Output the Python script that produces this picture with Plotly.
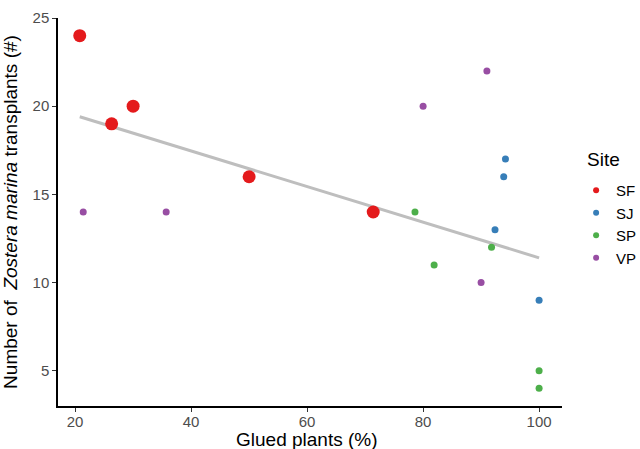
import plotly.graph_objects as go

sites = ["SF", "SJ", "SP", "VP"]
colors = {"SF": "#E41A1C", "SJ": "#377EB8", "SP": "#4DAF4A", "VP": "#984EA3"}

sf_x = [20.8, 26.3, 30.0, 50.0, 71.4]
sf_y = [24, 19, 20, 16, 14]
sj_x = [94.2, 93.9, 92.4, 100.0]
sj_y = [17, 16, 13, 9]
sp_x = [78.6, 91.8, 81.9, 100.0, 100.0]
sp_y = [14, 12, 11, 5, 4]
vp_x = [21.4, 35.7, 80.0, 91.0, 90.0]
vp_y = [14, 14, 20, 22, 10]

trend_x = [20.8, 100.0]
trend_y = [19.4, 11.4]

data = {"SF": (sf_x, sf_y), "SJ": (sj_x, sj_y), "SP": (sp_x, sp_y), "VP": (vp_x, vp_y)}
sizes = {"SF": 13, "SJ": 7, "SP": 7, "VP": 7}

fig = go.Figure()
fig.add_trace(go.Scatter(x=trend_x, y=trend_y, mode="lines",
                         line=dict(color="#BEBEBE", width=3), showlegend=False, hoverinfo="skip"))
for s in sites:
    xs, ys = data[s]
    fig.add_trace(go.Scatter(x=xs, y=ys, mode="markers", name=s, legendgroup=s,
                             showlegend=False,
                             marker=dict(color=colors[s], size=sizes[s], line=dict(width=0))))
# legend keys (small, uniform size as in the reference legend)
for s in sites:
    fig.add_trace(go.Scatter(x=[None], y=[None], mode="markers", name=s, legendgroup=s,
                             marker=dict(color=colors[s], size=6, line=dict(width=0))))

fig.add_annotation(text="Site", xref="paper", yref="paper", x=1.045, y=0.635,
                   xanchor="left", yanchor="middle", showarrow=False,
                   font=dict(size=19, color="black"))
fig.add_annotation(text="Glued plants (%)", xref="paper", yref="paper", x=0.495, y=-0.087,
                   xanchor="center", yanchor="middle", showarrow=False,
                   font=dict(size=19, color="black"))

fig.update_layout(
    width=640, height=449,
    margin=dict(l=58, r=78, t=18, b=43, autoexpand=False),
    paper_bgcolor="white", plot_bgcolor="white",
    font=dict(family="Liberation Sans, Arial", color="black"),
    legend=dict(font=dict(size=15, color="black"),
                x=1.028, xanchor="left", y=0.598, yanchor="top",
                itemwidth=30, tracegroupgap=0,
                bgcolor="rgba(0,0,0,0)"),
    xaxis=dict(range=[17.05, 103.95], tickvals=[20, 40, 60, 80, 100],
               showline=True, linecolor="black", linewidth=1.5, mirror=False,
               ticks="outside", ticklen=4, tickcolor="#333333", tickwidth=1,
               ticklabelstandoff=-3,
               showgrid=False, zeroline=False, automargin=False,
               tickfont=dict(size=15, color="#4D4D4D")),
    yaxis=dict(range=[3, 25], tickvals=[5, 10, 15, 20, 25],
               showline=True, linecolor="black", linewidth=1.5, mirror=False,
               ticks="outside", ticklen=4, tickcolor="#333333", tickwidth=1,
               showgrid=False, zeroline=False, automargin=False,
               tickfont=dict(size=15, color="#4D4D4D"),
               title=dict(text="Number of  <i>Zostera marina</i> transplants (#)",
                          font=dict(size=19, color="black"), standoff=10)),
)

fig.write_html("out.html")
